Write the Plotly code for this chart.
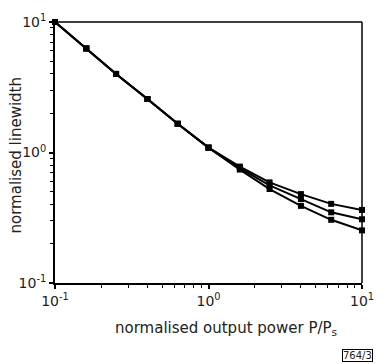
import plotly.graph_objects as go

power = [0.1, 0.16, 0.25, 0.4, 0.63, 1.0, 1.6, 2.5, 4.0, 6.3, 10.0]
lw_upper = [10.0, 6.27, 4.0, 2.57, 1.66, 1.09, 0.78, 0.59, 0.48, 0.404, 0.363]
lw_mid = [10.0, 6.27, 4.0, 2.57, 1.66, 1.09, 0.76, 0.56, 0.44, 0.348, 0.308]
lw_lower = [10.0, 6.27, 4.0, 2.57, 1.66, 1.09, 0.74, 0.525, 0.39, 0.305, 0.253]
tick_vals = [0.1, 1, 10]
tick_text = ["10<sup>-1</sup>", "10<sup>0</sup>", "10<sup>1</sup>"]
minor_vals = [m * d for d in (0.1, 1) for m in range(2, 10)]

FAM = "DejaVu Sans, Verdana, sans-serif"
font = dict(family=FAM, size=14, color="#222")
title_font = dict(family=FAM, size=15, color="#222")

fig = go.Figure()
for ys in (lw_upper, lw_mid, lw_lower):
    fig.add_trace(go.Scatter(
        x=power, y=ys, mode="lines+markers",
        line=dict(color="black", width=2),
        marker=dict(symbol="square", size=6, color="black"),
        showlegend=False, cliponaxis=False))

axis_common = dict(
    type="log", showgrid=False, zeroline=False,
    showline=True, linecolor="black", linewidth=2, mirror=False,
    ticks="outside", ticklen=4, tickwidth=1.5, tickcolor="black",
    tickvals=tick_vals, ticktext=tick_text,
    minor=dict(ticks="outside", ticklen=3, tickwidth=1, tickcolor="black",
               tickmode="array", tickvals=minor_vals),
    tickfont=font,
)

fig.update_layout(
    width=386, height=364,
    margin=dict(l=55, r=20, t=20, b=81),
    paper_bgcolor="white", plot_bgcolor="white",
    font=font,
    xaxis=dict(axis_common, range=[-1, 1]),
    yaxis=dict(axis_common, range=[-1, 1]),
    shapes=[
        dict(type="line", xref="paper", yref="paper", x0=0, x1=1, y0=1, y1=1,
             line=dict(color="black", width=1.5)),
        dict(type="line", xref="paper", yref="paper", x0=1, x1=1, y0=0, y1=1,
             line=dict(color="black", width=1.5)),
    ],
    annotations=[
        dict(text="normalised output power P/P<sub>s</sub>", xref="paper", yref="paper",
             x=(228 - 55) / 311, y=-(329 - 283) / 263, xanchor="center", yanchor="middle",
             showarrow=False, font=title_font),
        dict(text="normalised linewidth", xref="paper", yref="paper", textangle=-90,
             x=-(55 - 15) / 311, y=1 - (155 - 20) / 263, xanchor="center", yanchor="middle",
             showarrow=False, font=title_font),
        dict(text="764/3", xref="paper", yref="paper",
             x=(377 - 55) / 311, y=-(356 - 283) / 263,
             xanchor="right", yanchor="middle", showarrow=False,
             font=dict(family=FAM, size=10, color="#222"),
             bordercolor="black", borderwidth=1, borderpad=0),
    ],
)

fig.write_html("out.html")
